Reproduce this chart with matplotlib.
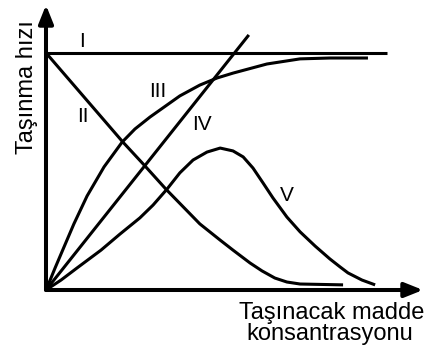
import matplotlib
matplotlib.use('Agg')
import matplotlib.pyplot as plt

plt.rcParams['font.family'] = ['Liberation Sans', 'DejaVu Sans']

# values (concentration 0-10, rate 0-10)
line1_x = [0.0, 9.05]
line1_y = [8.32, 8.32]

line2_x = [0.0, 2.04, 2.60, 3.18, 4.08, 4.62, 4.96, 5.41, 5.73, 6.07, 6.39,
           6.74, 7.88]
line2_y = [8.32, 5.19, 4.39, 3.54, 2.32, 1.75, 1.40, 0.95, 0.67, 0.42, 0.28,
           0.21, 0.18]

line3_x = [0.0, 0.11, 0.24, 0.42, 0.74, 1.09, 1.54, 2.02, 2.36, 2.76, 3.55,
           4.08, 4.54, 4.96, 5.86, 6.74, 7.53, 8.54]
line3_y = [0.0, 0.35, 0.77, 1.33, 2.32, 3.30, 4.32, 5.19, 5.65, 6.07, 6.81,
           7.19, 7.44, 7.61, 7.93, 8.11, 8.14, 8.14]

line4_x = [0.0, 5.38]
line4_y = [0.0, 8.95]

line5_x = [0.0, 0.40, 0.82, 1.46, 1.96, 2.49, 2.84, 3.21, 3.55, 3.90, 4.27,
           4.62, 4.96, 5.23, 5.49, 5.76, 6.02, 6.39, 6.74, 7.14, 7.53, 7.80,
           8.01, 8.38, 8.73]
line5_y = [0.0, 0.35, 0.77, 1.40, 1.96, 2.53, 2.98, 3.54, 4.11, 4.56, 4.84,
           4.98, 4.88, 4.67, 4.28, 3.75, 3.23, 2.56, 2.04, 1.54, 1.09, 0.81,
           0.60, 0.35, 0.18]

labels = ['I', 'II', 'III', 'IV', 'V']
label_x = [0.95, 0.97, 2.97, 4.14, 6.39]
label_y = [8.53, 5.89, 6.77, 5.61, 3.12]

ylabel = 'Taşınma hızı'
xlabel1 = 'Taşınacak madde'
xlabel2 = 'konsantrasyonu'

fig = plt.figure(figsize=(4.3, 3.52), dpi=100)
ax = fig.add_axes([46 / 430, 62 / 352, 377 / 430, 285 / 352])
ax.set_xlim(0, 10)
ax.set_ylim(0, 10)
ax.axis('off')

lw = 2.2
for xs, ys in [(line1_x, line1_y), (line2_x, line2_y), (line3_x, line3_y),
               (line4_x, line4_y), (line5_x, line5_y)]:
    ax.plot(xs, ys, color='black', lw=lw, solid_capstyle='butt',
            solid_joinstyle='round', clip_on=False)

# axes with arrow heads
arrow = dict(arrowstyle='-|>,head_length=0.55,head_width=0.22', lw=2.9,
             color='black', shrinkA=0, shrinkB=0, mutation_scale=20)
ax.annotate('', xy=(10, 0), xytext=(0, 0), arrowprops=arrow,
            annotation_clip=False)
ax.annotate('', xy=(0, 10), xytext=(0, 0), arrowprops=arrow,
            annotation_clip=False)

for t, x, y in zip(labels, label_x, label_y):
    ax.text(x, y, t, fontsize=15, ha='center', va='baseline')

fig.text(33 / 430, 1 - 87.5 / 352, ylabel, fontsize=17, rotation=90,
         rotation_mode='anchor', ha='center', va='baseline')
fig.text(331.5 / 430, 1 - 319 / 352, xlabel1, fontsize=17,
         ha='center', va='baseline')
fig.text(329.5 / 430, 1 - 340 / 352, xlabel2, fontsize=17,
         ha='center', va='baseline')

fig.savefig('out.png', dpi=100)
